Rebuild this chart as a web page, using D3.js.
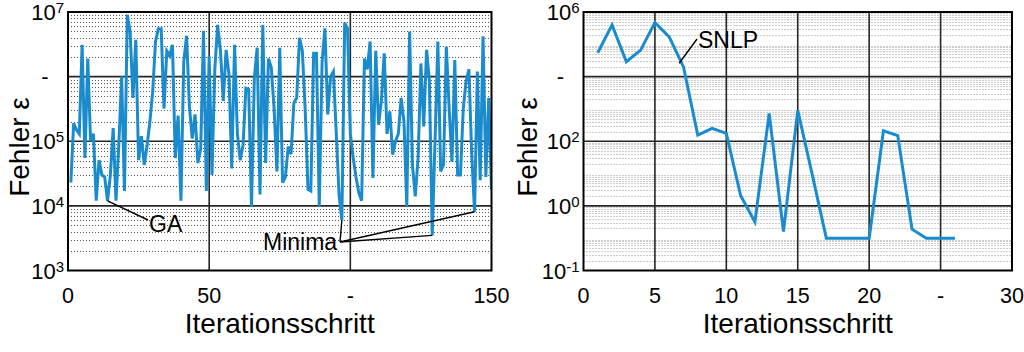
<!DOCTYPE html>
<html>
<head>
<meta charset="utf-8">
<script src="https://cdn.jsdelivr.net/npm/d3@7"></script>
<style>
body { margin: 0; background: #fff; }
svg { display: block; }
text { font-family: "Liberation Sans", Arial, sans-serif; fill: #000; }
</style>
</head>
<body>
<div id="chart"></div>
<script>
// GA error per iteration (iterations 1..150)
var gaError = [
	2.3e4, 1.9e5, 1.5e5, 1.3e5, 3.1e6, 5.5e4, 1.9e6, 1.0e5, 1.3e5, 1.2e4,
	5.1e4, 3.0e4, 2.8e4, 1.2e4, 3.0e4, 1.6e5, 1.2e4, 8.9e4, 1.0e6, 1.7e4,
	9.1e6, 5.0e6, 4.7e5, 3.7e6, 5.1e4, 1.2e5, 4.3e4, 8.5e4, 2.0e5, 5.9e5,
	3.5e6, 5.5e6, 5.5e6, 3.2e5, 2.5e6, 2.1e6, 3.1e6, 5.5e4, 2.5e5, 1.2e4,
	1.7e6, 4.3e6, 3.5e5, 1.1e5, 2.6e5, 4.6e4, 7.6e4, 5.1e6, 1.7e4, 2.1e6,
	3.0e4, 1.3e6, 6.3e6, 2.5e6, 4.2e5, 2.6e6, 1.1e6, 3.8e4, 3.1e6, 1.3e5,
	5.1e4, 8.7e4, 6.6e5, 6.3e5, 9.8e3, 9.5e5, 2.8e6, 1.5e4, 6.3e6, 4.6e4,
	1.9e6, 1.4e6, 3.2e5, 3.4e4, 2.8e6, 2.3e4, 2.8e4, 8.3e4, 6.3e4, 3.9e5,
	4.7e5, 4.0e6, 2.5e6, 3.2e5, 1.8e4, 1.7e4, 2.3e6, 2.3e6, 9.8e3, 1.7e6,
	5.6e6, 2.6e5, 1.0e6, 1.2e6, 1.4e5, 1.5e4, 6.0e3, 6.8e6, 5.6e6, 1.3e5,
	5.6e4, 2.8e4, 1.6e4, 1.2e4, 1.9e6, 1.3e6, 3.5e6, 2.7e4, 2.5e6, 1.8e5,
	4.2e5, 2.3e6, 1.3e5, 2.9e5, 6.2e4, 1.0e5, 1.3e5, 4.7e5, 2.0e5, 9.8e3,
	5.0e6, 4.3e4, 1.4e4, 5.5e4, 1.6e6, 1.7e5, 2.6e6, 8.5e5, 3.5e3, 1.0e5,
	3.5e6, 3.4e4, 4.3e4, 2.9e6, 3.2e5, 4.8e4, 1.8e6, 3.0e4, 3.0e4, 3.2e5,
	8.5e5, 1.3e6, 6.2e4, 8.1e3, 1.2e6, 2.5e4, 4.2e6, 2.8e4, 4.7e5, 1.8e4
];
// SNLP error per iteration (iterations 1..26)
var snlpError = [
	5.5e4, 4.0e5, 2.9e4, 6.6e4, 4.7e5, 1.7e5, 2.0e4, 155, 250, 175,
	2.1, 0.32, 720, 0.16, 900, 10, 0.1, 0.1, 0.1, 0.1,
	210, 150, 0.19, 0.1, 0.1, 0.1
];

var leftXTicks = [0, 50, 100, 150];
var leftXLabels = ["0", "50", "-", "150"];
var leftYTicks = [1e3, 1e4, 1e5, 1e6, 1e7];
var leftYLabels = [["10", "3"], ["10", "4"], ["10", "5"], ["-", ""], ["10", "7"]];

var rightXTicks = [0, 5, 10, 15, 20, 25, 30];
var rightXLabels = ["0", "5", "10", "15", "20", "-", "30"];
var rightYTicks = [1e-2, 1e0, 1e2, 1e4, 1e6];
var rightYLabels = [["10", "-1"], ["10", "0"], ["10", "2"], ["-", ""], ["10", "6"]];

var ErrorChart = {};

ErrorChart.render = function(svg, data, p) {
	var g = svg.append("g").attr("class", p.name);

	var x = d3.scaleLinear().domain(p.xDomain).range([p.left, p.right]);
	var y = d3.scaleLog().domain(p.yDomain).range([p.bottom, p.top]);

	// dotted minor grid, 2..9 in every decade
	var minor = [];
	var lo = Math.round(Math.log10(p.yDomain[0]));
	var hi = Math.round(Math.log10(p.yDomain[1]));
	for(var d = lo; d < hi; d++) {
		for(var k = 2; k < 10; k++) {
			minor.push(k * Math.pow(10, d));
		}
	}
	g.selectAll("line.minor")
		.data(minor)
		.enter()
		.append("line")
		.attr("class", "minor")
		.attr("x1", p.left)
		.attr("x2", p.right)
		.attr("y1", function(d) { return Math.round(y(d)) + 0.5; })
		.attr("y2", function(d) { return Math.round(y(d)) + 0.5; })
		.attr("stroke", p.minorColor)
		.attr("stroke-width", 1)
		.attr("stroke-dasharray", "1,2");

	// major grid
	g.selectAll("line.hmajor")
		.data(p.yTicks.slice(1, -1))
		.enter()
		.append("line")
		.attr("class", "hmajor")
		.attr("x1", p.left)
		.attr("x2", p.right)
		.attr("y1", function(d) { return y(d); })
		.attr("y2", function(d) { return y(d); })
		.attr("stroke", "#262626")
		.attr("stroke-width", 1.6);
	g.selectAll("line.vmajor")
		.data(p.xTicks.slice(1, -1))
		.enter()
		.append("line")
		.attr("class", "vmajor")
		.attr("x1", function(d) { return x(d); })
		.attr("x2", function(d) { return x(d); })
		.attr("y1", p.top)
		.attr("y2", p.bottom)
		.attr("stroke", "#262626")
		.attr("stroke-width", 1.6);

	// data line
	g.append("clipPath")
		.attr("id", "clip_" + p.name)
		.append("rect")
		.attr("x", p.left)
		.attr("y", p.top)
		.attr("width", p.right - p.left)
		.attr("height", p.bottom - p.top);

	var line = d3.line()
		.x(function(d, i) { return x(i + 1); })
		.y(function(d) { return y(d); });
	g.append("path")
		.datum(data)
		.attr("clip-path", "url(#clip_" + p.name + ")")
		.attr("d", line)
		.attr("fill", "none")
		.attr("stroke", "#1a8bcd")
		.attr("stroke-width", 3);

	// frame
	g.append("rect")
		.attr("x", p.left)
		.attr("y", p.top)
		.attr("width", p.right - p.left)
		.attr("height", p.bottom - p.top)
		.attr("fill", "none")
		.attr("stroke", "#000")
		.attr("stroke-width", 2);

	// x tick labels
	g.selectAll("text.xtick")
		.data(p.xTicks)
		.enter()
		.append("text")
		.attr("class", "xtick")
		.attr("x", function(d) { return x(d); })
		.attr("y", p.bottom + 32)
		.attr("text-anchor", "middle")
		.attr("font-size", "21.5px")
		.text(function(d, i) { return p.xLabels[i]; });

	// y tick labels with exponent
	p.yTicks.forEach(function(t, i) {
		var lab = p.yLabels[i];
		if(lab[1] == "") {
			g.append("text")
				.attr("x", p.left - 23)
				.attr("y", y(t) + 7)
				.attr("text-anchor", "middle")
				.attr("font-size", "22px")
				.text(lab[0]);
			return;
		}
		var txt = g.append("text")
			.attr("x", p.left - 4)
			.attr("y", y(t) + 8)
			.attr("text-anchor", "end")
			.attr("font-size", "22px");
		txt.append("tspan").text(lab[0]);
		txt.append("tspan")
			.attr("font-size", "15px")
			.attr("dy", -7)
			.text(lab[1]);
	});

	// axis titles
	g.append("text")
		.attr("x", (p.left + p.right) / 2)
		.attr("y", 333)
		.attr("text-anchor", "middle")
		.attr("font-size", "28px")
		.text("Iterationsschritt");
	g.append("text")
		.attr("transform", "translate(" + p.yTitleX + "," + 147 + ") rotate(-90)")
		.attr("text-anchor", "middle")
		.attr("font-size", "28px")
		.text("Fehler \u03b5");

	// annotations
	p.notes.forEach(function(n) {
		g.append("text")
			.attr("x", n.tx)
			.attr("y", n.ty)
			.attr("font-size", "23px")
			.text(n.text);
		n.targets.forEach(function(it) {
			g.append("line")
				.attr("x1", n.lx)
				.attr("y1", n.ly)
				.attr("x2", x(it[0]))
				.attr("y2", y(it[1]))
				.attr("stroke", "#000")
				.attr("stroke-width", 1.4);
		});
	});
};

var svg = d3.select("#chart").append("svg")
	.attr("width", 1024)
	.attr("height", 352);

ErrorChart.render(svg, gaError, {
	name: "ga",
	left: 68, right: 491.5, top: 12, bottom: 270.5,
	xDomain: [0, 150], yDomain: [1e3, 1e7],
	xTicks: leftXTicks, xLabels: leftXLabels,
	yTicks: leftYTicks, yLabels: leftYLabels,
	minorColor: "#555",
	yTitleX: 29,
	notes: [
		{ text: "GA", tx: 149, ty: 232, lx: 148, ly: 220, targets: [[14, gaError[13]]] },
		{ text: "Minima", tx: 263, ty: 250, lx: 340, ly: 242,
			targets: [[97, gaError[96]], [129, gaError[128]], [144, gaError[143]]] }
	]
});

ErrorChart.render(svg, snlpError, {
	name: "snlp",
	left: 583.5, right: 1012, top: 12, bottom: 270.5,
	xDomain: [0, 30], yDomain: [1e-2, 1e6],
	xTicks: rightXTicks, xLabels: rightXLabels,
	yTicks: rightYTicks, yLabels: rightYLabels,
	minorColor: "#9a9a9a",
	yTitleX: 537,
	notes: [
		{ text: "SNLP", tx: 698, ty: 48, lx: 697, ly: 39, targets: [[6.7, 2.6e4]] }
	]
});
</script>
</body>
</html>
